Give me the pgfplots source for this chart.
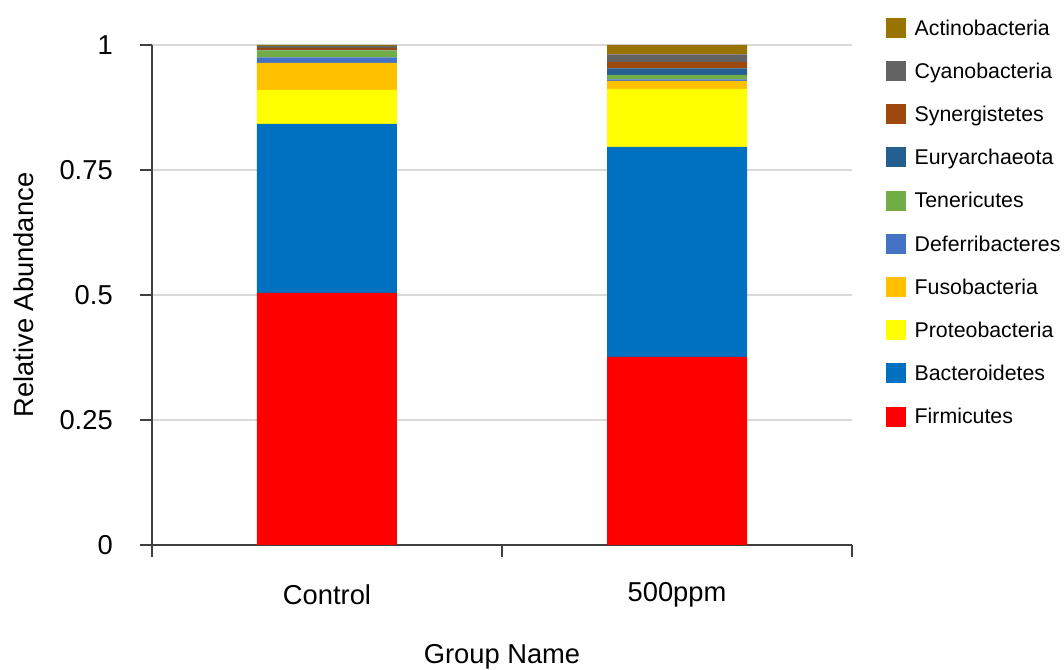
\documentclass[border=0pt]{standalone}
\usepackage{pgfplots}
\pgfplotsset{compat=1.18}
\usepackage{fontspec}
\setmainfont{Liberation Sans}
\definecolor{cFir}{HTML}{FF0000}
\definecolor{cBac}{HTML}{0070C0}
\definecolor{cPro}{HTML}{FFFF00}
\definecolor{cFus}{HTML}{FFC000}
\definecolor{cDef}{HTML}{4472C4}
\definecolor{cTen}{HTML}{70AD47}
\definecolor{cEur}{HTML}{255E91}
\definecolor{cSyn}{HTML}{9E480E}
\definecolor{cCya}{HTML}{636363}
\definecolor{cAct}{HTML}{997300}
\definecolor{axgray}{HTML}{404040}
\definecolor{gridgray}{HTML}{D9D9D9}
\begin{document}
\begin{tikzpicture}
\path[use as bounding box] (-114pt,-93.75pt) rectangle (684pt,408.75pt);
\begin{axis}[
  scale only axis,
  width=525pt, height=375pt,
  at={(0,0)}, anchor=south west,
  ybar stacked,
  bar width=0.4,
  xmin=0, xmax=2, ymin=0, ymax=1,
  axis x line*=bottom, axis y line*=left,
  axis line style={axgray, line width=1.2pt},
  xtick={0.5,1.5},
  xticklabels={Control,500ppm},
  minor xtick={0,1,2},
  major x tick style={draw=none},
  minor x tick style={axgray, line width=1.2pt},
  minor tick length=9pt,
  tick align=outside,
  ytick={0,0.25,0.5,0.75,1},
  yticklabels={0,0.25,0.5,0.75,1},
  major tick length=9pt,
  y tick style={axgray, line width=1.2pt},
  ymajorgrids,
  grid style={gridgray, line width=1.2pt},
  xticklabel style={font=\fontsize{20.5pt}{24pt}\selectfont, anchor=center, inner sep=0pt, yshift=-28.5pt},
  yticklabel style={font=\fontsize{20.5pt}{24pt}\selectfont, anchor=east, inner sep=0pt, xshift=-20.25pt},
  xlabel={Group Name},
  ylabel={Relative Abundance},
  label style={font=\fontsize{20.5pt}{24pt}\selectfont},
  xlabel style={at={(axis description cs:0.5,-0.224)}, anchor=center},
  ylabel style={at={(axis description cs:-0.1829,0.5)}, anchor=center},
  reverse legend,
  legend cell align=left,
  legend image code/.code={\fill[#1,draw=none] (0pt,-6.3pt) rectangle (15pt,8.7pt);},
  legend style={draw=none, fill=none, inner sep=0pt, outer sep=0pt,
    at={(axis cs:2.0971,1.0545)}, anchor=north west,
    row sep=15.95pt, column sep=6.5pt,
    font=\fontsize{16pt}{19pt}\selectfont,
    nodes={inner sep=0pt, text height=12pt, text depth=3.5pt}},
]
\addplot[fill=cFir, draw=none] coordinates {(0.5,0.504) (1.5,0.376)};
\addplot[fill=cBac, draw=none] coordinates {(0.5,0.338) (1.5,0.420)};
\addplot[fill=cPro, draw=none] coordinates {(0.5,0.068) (1.5,0.116)};
\addplot[fill=cFus, draw=none] coordinates {(0.5,0.054) (1.5,0.016)};
\addplot[fill=cDef, draw=none] coordinates {(0.5,0.011) (1.5,0.003)};
\addplot[fill=cTen, draw=none] coordinates {(0.5,0.014) (1.5,0.009)};
\addplot[fill=cEur, draw=none] coordinates {(0.5,0.001) (1.5,0.013)};
\addplot[fill=cSyn, draw=none] coordinates {(0.5,0.004) (1.5,0.013)};
\addplot[fill=cCya, draw=none] coordinates {(0.5,0.004) (1.5,0.015)};
\addplot[fill=cAct, draw=none] coordinates {(0.5,0.002) (1.5,0.019)};
\legend{Firmicutes,Bacteroidetes,Proteobacteria,Fusobacteria,Deferribacteres,Tenericutes,Euryarchaeota,Synergistetes,Cyanobacteria,Actinobacteria}
\end{axis}
\end{tikzpicture}
\end{document}
